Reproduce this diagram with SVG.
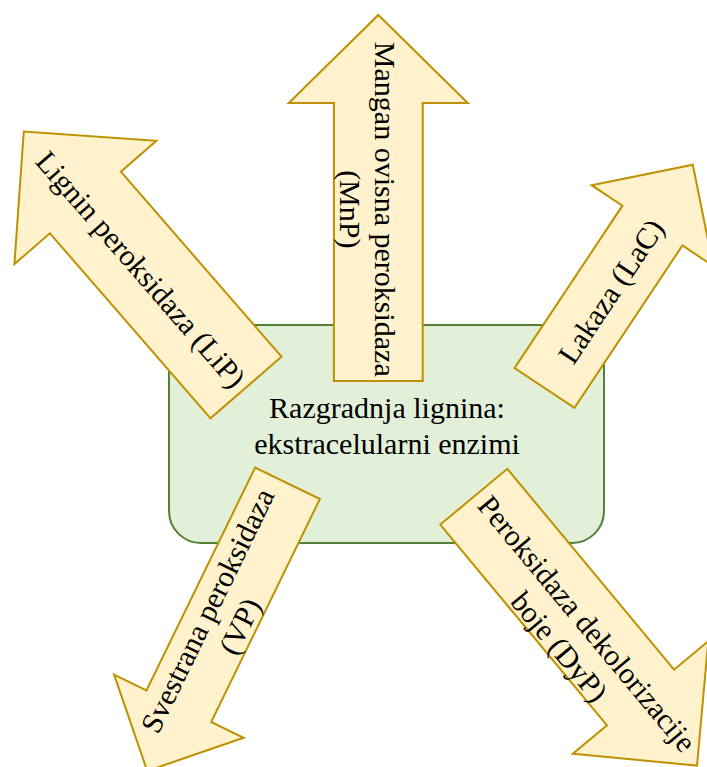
<svg xmlns="http://www.w3.org/2000/svg" width="707" height="767" viewBox="0 0 707 767">
  <style>
    .arrow { fill: #fff2cc; stroke: #bf9000; stroke-width: 2; stroke-linejoin: miter; }
    .center { fill: #e2efd9; stroke: #538135; stroke-width: 2; }
    .t { font-family: "Liberation Serif", "Times New Roman", serif; font-size: 30px; fill: #000; text-anchor: middle; }
  </style>
  <rect width="707" height="767" fill="#ffffff"/>
  <g id="center-node">
    <rect class="center" x="169" y="325" width="435" height="218" rx="32" ry="32"/>
  </g>
  <g id="connectors">
    <g id="arrow-mnp">
      <polygon class="arrow" transform="translate(378.3,381) rotate(-90)" points="0,-44.4 278,-44.4 278,-89.5 366,0 278,89.5 278,44.4 0,44.4"/>
      <text class="t" transform="translate(378.3,209.3) rotate(90)"><tspan x="0" y="3.3">Mangan ovisna peroksidaza</tspan><tspan x="0" y="38.8">(MnP)</tspan></text>
    </g>
    <g id="arrow-lip">
      <polygon class="arrow" transform="translate(246,387.5) rotate(-130.96)" points="0,-47 245,-47 245,-94 339,0 245,94 245,47 0,47"/>
      <text class="t" transform="translate(142.2,268.3) rotate(49.04)"><tspan x="0" y="12">Lignin peroksidaza (LiP)</tspan></text>
    </g>
    <g id="arrow-lac">
      <polygon class="arrow" transform="translate(544.5,388) rotate(-56.4)" points="0,-36 195,-36 195,-73 268,0 195,73 195,36 0,36"/>
      <text class="t" transform="translate(609.4,290.3) rotate(-56.4)"><tspan x="0" y="12">Lakaza (LaC)</tspan></text>
    </g>
    <g id="arrow-vp">
      <polygon class="arrow" transform="translate(287.5,483.3) rotate(115.99)" points="0,-36 248,-36 248,-72 320,0 248,72 248,36 0,36"/>
      <text class="t" transform="translate(222,617.6) rotate(-64.01)"><tspan x="0" y="-6">Svestrana peroksidaza</tspan><tspan x="0" y="30">(VP)</tspan></text>
    </g>
    <g id="arrow-dyp">
      <polygon class="arrow" transform="translate(473.8,496.7) rotate(50.3)" points="0,-43.6 261,-43.6 261,-88 349.5,0 261,88 261,43.6 0,43.6"/>
      <text class="t" transform="translate(582.3,627.6) rotate(50.3)"><tspan x="0" y="4">Peroksidaza dekolorizacije</tspan><tspan x="0" y="40">boje (DyP)</tspan></text>
    </g>
  </g>
  <g id="center-label">
    <text class="t" x="387" y="418">Razgradnja lignina:</text>
    <text class="t" x="387" y="454">ekstracelularni enzimi</text>
  </g>
</svg>
